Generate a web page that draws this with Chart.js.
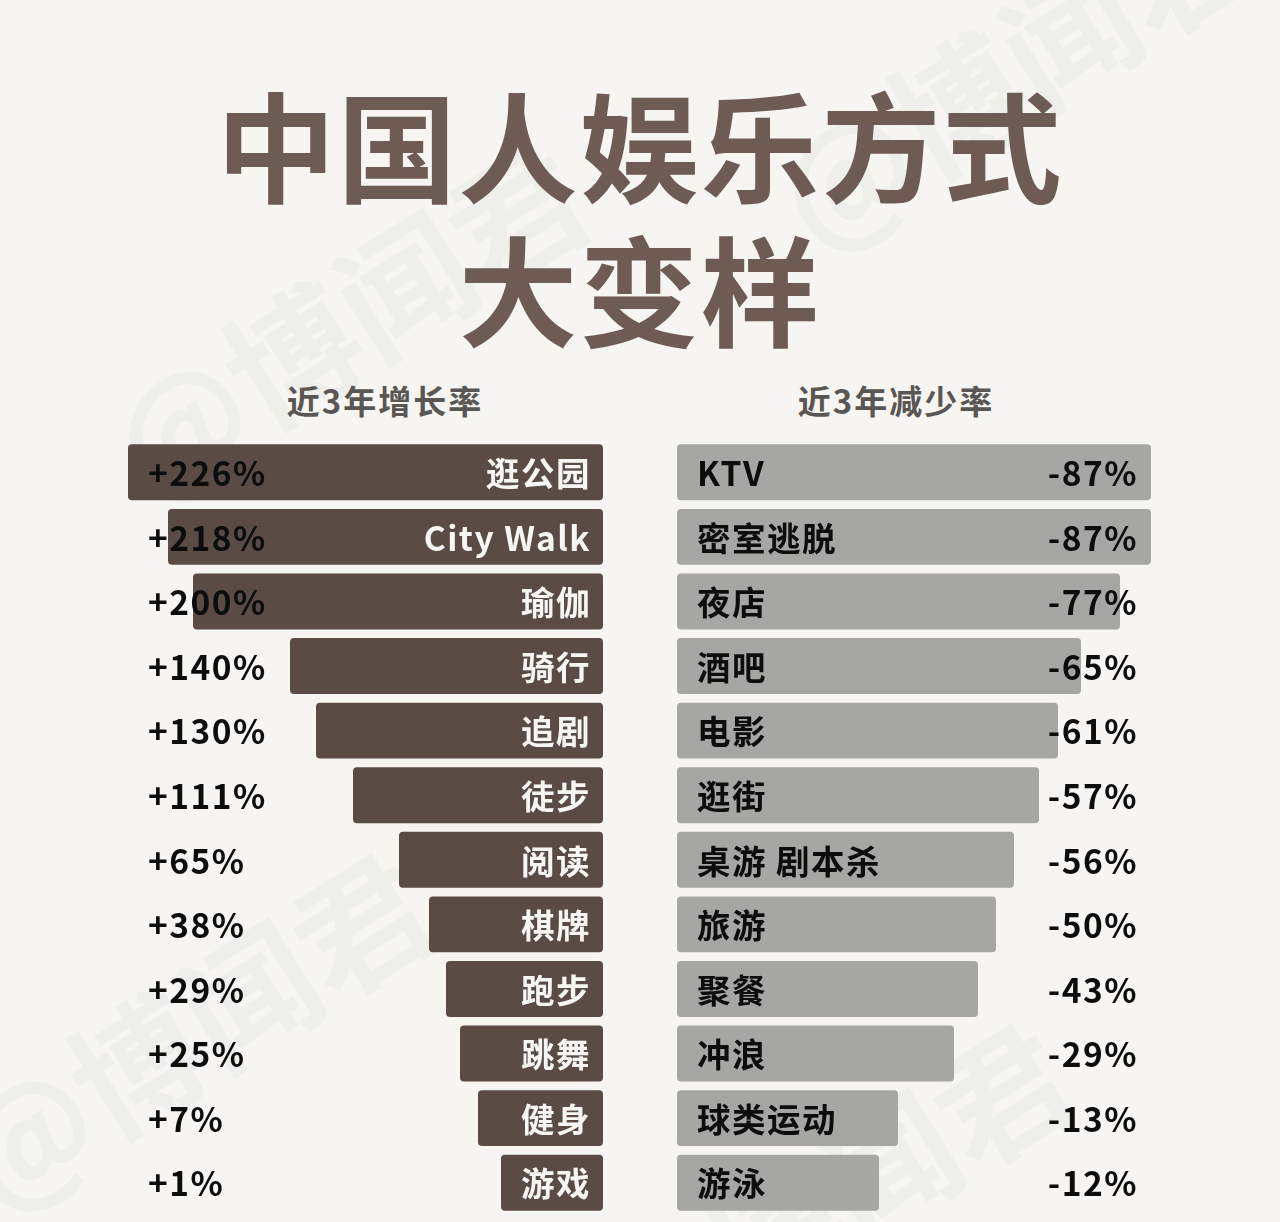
<!DOCTYPE html>
<html lang="zh">
<head>
<meta charset="utf-8">
<script src="https://cdn.jsdelivr.net/npm/chart.js@4"></script>
<style>
    html, body { margin: 0; padding: 0; }
    body {
        width: 1280px; height: 1222px; position: relative; overflow: hidden;
        background: #f6f5f1; font-family: "Noto Sans CJK SC", sans-serif;
    }
    .title {
        position: absolute; left: 0; width: 1280px; text-align: center;
        font-size: 119px; font-weight: 700; line-height: 144px; color: #6d5b54; letter-spacing: 2px;
    }
    .sub {
        position: absolute; top: 377px; width: 400px; text-align: center;
        font-size: 33px; font-weight: 700; line-height: 46px; color: #5a5654; letter-spacing: 2px;
    }
    .mark {
        position: absolute; white-space: nowrap; font-size: 132px; font-weight: 700; color: #eeeeea;
        transform: translate(-50%, -50%) rotate(-32deg);
    }
    canvas { position: absolute; }
</style>
</head>
<body>
<div class="mark" style="left:345px;top:315px">@博闻君</div>
<div class="mark" style="left:190px;top:1025px">@博闻君</div>
<div class="mark" style="left:1010px;top:65px">@博闻君</div>
<div class="mark" style="left:830px;top:1195px">@博闻君</div>

<div class="title" style="top:70px">中国人娱乐方式</div>
<div class="title" style="top:214px">大变样</div>
<div class="sub" style="left:185px">近3年增长率</div>
<div class="sub" style="left:696px">近3年减少率</div>

<canvas id="growthChart" width="475" height="775" style="left:128px;top:440px"></canvas>
<canvas id="declineChart" width="475" height="775" style="left:677px;top:440px"></canvas>

<script>
const growthNames = ['逛公园', 'City Walk', '瑜伽', '骑行', '追剧', '徒步', '阅读', '棋牌', '跑步', '跳舞', '健身', '游戏'];
const growthRates = [226, 218, 200, 140, 130, 111, 65, 38, 29, 25, 7, 1];
// the bars in the picture are not proportional to the printed rates, so lengths are read separately
const growthLengths = [475, 435, 410, 313, 287, 250, 204, 174, 157, 143, 125, 102];

const declineNames = ['KTV', '密室逃脱', '夜店', '酒吧', '电影', '逛街', '桌游 剧本杀', '旅游', '聚餐', '冲浪', '球类运动', '游泳'];
const declineRates = [87, 87, 77, 65, 61, 57, 56, 50, 43, 29, 13, 12];
const declineLengths = [474, 474, 443, 404, 381, 362, 337, 319, 301, 277, 221, 202];

const axisMax = 475;
const labelFont = '700 33.5px "Noto Sans CJK SC"';

// writes the name and the percentage on every row
const rowLabels = {
    id: 'rowLabels',
    afterDatasetsDraw(chart, args, opts) {
        const c = chart.ctx;
        c.save();
        c.font = labelFont;
        c.letterSpacing = '1.5px';
        c.textBaseline = 'middle';
        chart.getDatasetMeta(0).data.forEach((bar, i) => {
            c.fillStyle = opts.nameColor;
            c.textAlign = opts.nameAlign;
            c.fillText(opts.names[i], opts.nameX, bar.y + 1);
            c.fillStyle = '#0d0d0d';
            c.textAlign = opts.rateAlign;
            c.fillText(opts.rates[i], opts.rateX, bar.y + 1);
        });
        c.restore();
    }
};

function makeChart(id, names, lengths, color, reverse, labelOpts) {
    new Chart(document.getElementById(id), {
        type: 'bar',
        data: {
            labels: names,
            datasets: [{
                data: lengths, backgroundColor: color,
                borderRadius: 4, borderSkipped: false,
                categoryPercentage: 1, barPercentage: 0.867
            }]
        },
        options: {
            indexAxis: 'y', responsive: false, animation: false,
            layout: {padding: 0},
            scales: {
                x: {display: false, min: 0, max: axisMax, reverse: reverse},
                y: {display: false}
            },
            plugins: {legend: {display: false}, tooltip: {enabled: false}, rowLabels: labelOpts}
        },
        plugins: [rowLabels]
    });
}

makeChart('growthChart', growthNames, growthLengths, '#5a4b45', true, {
    names: growthNames, rates: growthRates.map(v => '+' + v + '%'),
    nameColor: '#f7f6f2', nameAlign: 'right', nameX: 463,
    rateAlign: 'left', rateX: 20
});
makeChart('declineChart', declineNames, declineLengths, '#a6a6a4', false, {
    names: declineNames, rates: declineRates.map(v => '-' + v + '%'),
    nameColor: '#0d0d0d', nameAlign: 'left', nameX: 20,
    rateAlign: 'right', rateX: 461
});
</script>
</body>
</html>
